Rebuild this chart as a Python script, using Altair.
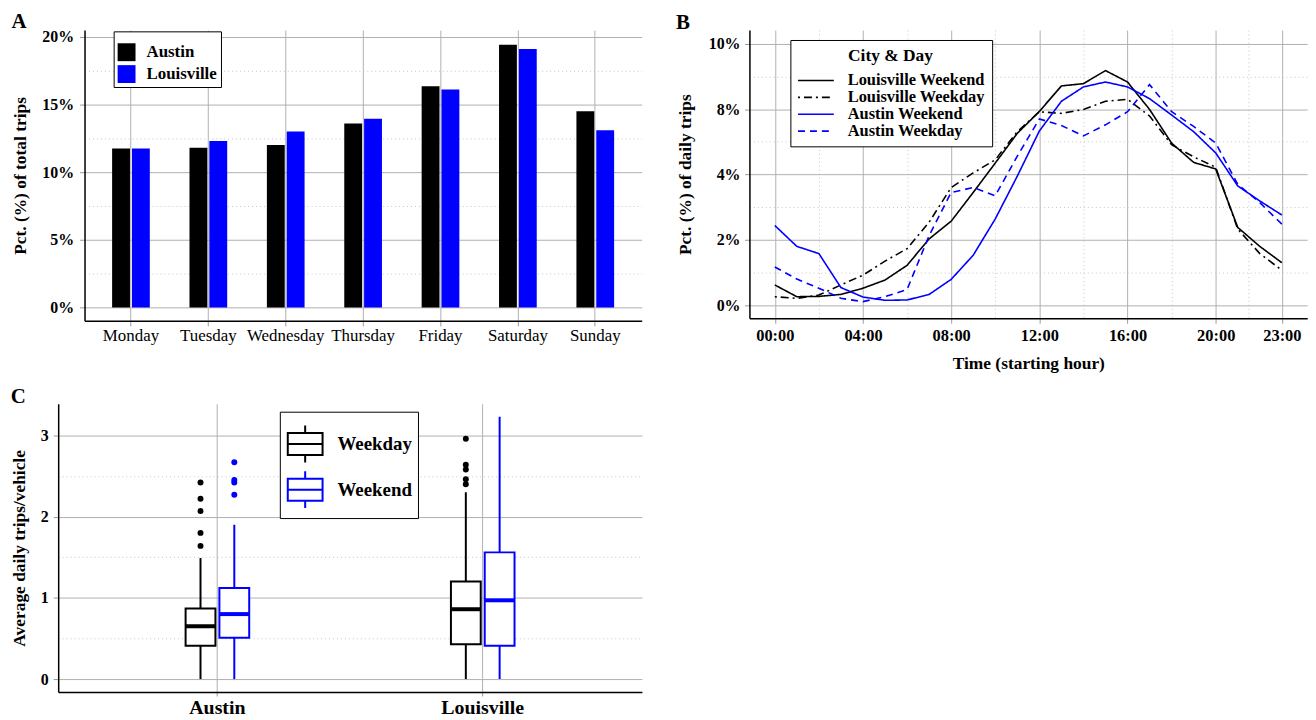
import altair as alt
import pandas as pd

FONT = "Liberation Serif"
BLACK = "#000000"
BLUE = "#0000ff"
GRID_MAJOR = "#b0b0b0"
GRID_MINOR = "#c8c8c8"
TICK_COLOR = "#999999"

# ---------------- Panel A data ----------------
days = ["Monday", "Tuesday", "Wednesday", "Thursday", "Friday", "Saturday", "Sunday"]
cities = ["Austin", "Louisville"]
austin_share = [11.75, 11.8, 12.0, 13.6, 16.35, 19.4, 14.5]
louisville_share = [11.75, 12.3, 13.0, 13.95, 16.1, 19.1, 13.1]
a_major = [0, 5, 10, 15, 20]
a_labels = ["0%", "5%", "10%", "15%", "20%"]
a_minor = [2.5, 7.5, 12.5, 17.5]

# ---------------- Panel B data ----------------
hours = list(range(24))
series_names = ["Louisville Weekend", "Louisville Weekday", "Austin Weekend", "Austin Weekday"]
louisville_weekend = [0.62, 0.26, 0.27, 0.33, 0.52, 0.77, 1.22, 2.03, 2.57, 3.45, 4.35, 5.26,
                      5.93, 6.71, 6.78, 7.18, 6.83, 5.99, 4.96, 4.37, 4.17, 2.38, 1.80, 1.30]
louisville_weekday = [0.26, 0.21, 0.31, 0.62, 0.92, 1.35, 1.73, 2.54, 3.60, 4.05, 4.45, 5.31,
                      5.92, 5.87, 5.99, 6.24, 6.30, 5.79, 4.91, 4.54, 4.22, 2.33, 1.58, 1.07]
austin_weekend = [2.44, 1.80, 1.58, 0.54, 0.25, 0.15, 0.16, 0.33, 0.79, 1.53, 2.64, 3.95,
                  5.33, 6.24, 6.68, 6.83, 6.68, 6.32, 5.82, 5.31, 4.66, 3.65, 3.19, 2.76]
austin_weekday = [1.17, 0.80, 0.52, 0.21, 0.11, 0.26, 0.48, 2.13, 3.45, 3.60, 3.35, 4.56,
                  5.70, 5.50, 5.18, 5.52, 5.92, 6.75, 5.92, 5.47, 4.96, 3.70, 3.14, 2.48]
series_values = [louisville_weekend, louisville_weekday, austin_weekend, austin_weekday]
series_colors = [BLACK, BLACK, BLUE, BLUE]
series_dashes = [[1, 0], [2, 4, 8, 4], [1, 0], [7, 5]]
b_x_major = [0, 4, 8, 12, 16, 20, 23]
b_x_labels = ["00:00", "04:00", "08:00", "12:00", "16:00", "20:00", "23:00"]
b_x_minor = [2, 6, 10, 14, 18, 21.5]
b_y_major = [0, 2, 4, 6, 8]
b_y_labels = ["0%", "2%", "4%", "8%", "10%"]
b_y_minor = [1, 3, 5, 7]

# ---------------- Panel C data ----------------
day_types = ["Weekday", "Weekend"]
box_city = ["Austin", "Austin", "Louisville", "Louisville"]
box_day = ["Weekday", "Weekend", "Weekday", "Weekend"]
box_low = [0.0, 0.0, 0.0, 0.0]
box_q1 = [0.41, 0.51, 0.43, 0.41]
box_median = [0.65, 0.80, 0.86, 0.97]
box_q3 = [0.87, 1.12, 1.20, 1.56]
box_high = [1.49, 1.90, 2.30, 3.23]
out_city = ["Austin"] * 9 + ["Louisville"] * 5
out_day = ["Weekday"] * 5 + ["Weekend"] * 4 + ["Weekday"] * 5
out_value = [1.64, 1.80, 2.07, 2.22, 2.42, 2.67, 2.45, 2.42, 2.27,
             2.96, 2.64, 2.58, 2.46, 2.40]
c_major = [0, 1, 2, 3]
c_labels = ["0", "1", "2", "3"]
c_minor = [0.5, 1.5, 2.5]


def js_list(vals, quote=False):
    if quote:
        return "[" + ",".join("'" + str(v) + "'" for v in vals) + "]"
    return "[" + ",".join(str(v) for v in vals) + "]"


def grid_axis(major, labels, minor, **kw):
    mj = js_list(major)
    is_major = f"indexof({mj}, datum.value) >= 0"
    return alt.Axis(
        values=major + minor,
        labelExpr=f"{is_major} ? {js_list(labels, True)}[indexof({mj}, datum.value)] : ''",
        grid=True,
        gridDash={"condition": {"test": f"!({is_major})", "value": [1, 3]}, "value": []},
        gridColor={"condition": {"test": f"!({is_major})", "value": GRID_MINOR}, "value": GRID_MAJOR},
        tickOpacity={"condition": {"test": f"!({is_major})", "value": 0}, "value": 1},
        **kw,
    )


TITLE_KW = dict(anchor="start", frame="bounds", fontSize=21, fontWeight="bold",
                font=FONT, offset=-3, baseline="top", color="black")

# ---------------- Panel A ----------------
df_a = pd.DataFrame({
    "a_day": days * 2,
    "a_city": ["Austin"] * len(days) + ["Louisville"] * len(days),
    "a_pct": austin_share + louisville_share,
})

chart_a = alt.Chart(df_a).mark_bar().encode(
    x=alt.X("a_day:N", sort=days,
            scale=alt.Scale(domain=days, paddingInner=0, paddingOuter=0.1),
            axis=alt.Axis(title=None, labelAngle=0, bandPosition=0.5, grid=True,
                          gridColor=GRID_MAJOR, labelFontSize=17, labelFontWeight="normal",
                          tickSize=5, labelPadding=2)),
    xOffset=alt.XOffset("a_city:N", sort=cities,
                        scale=alt.Scale(domain=cities, paddingInner=0.1, paddingOuter=1)),
    y=alt.Y("a_pct:Q", scale=alt.Scale(domain=[-0.98, 20.49], nice=False),
            axis=grid_axis(a_major, a_labels, a_minor, title="Pct. (%) of total trips",
                           titleX=-55.4, labelFontSize=16, tickSize=5, labelPadding=6)),
    y2=alt.datum(0),
    color=alt.Color("a_city:N", sort=cities,
                    scale=alt.Scale(domain=cities, range=[BLACK, BLUE]),
                    legend=alt.Legend(title=" ", titleFontSize=6, titlePadding=2,
                                      orient="none", legendX=29.3, legendY=1.3,
                                      direction="vertical", padding=4,
                                      symbolType="square", symbolSize=324,
                                      symbolStrokeWidth=0, labelOffset=11,
                                      labelFontSize=17, labelFontWeight="bold",
                                      rowPadding=4, strokeColor="black",
                                      fillColor="white")),
).properties(width=560.6, height=292.6, title=alt.TitleParams("A", **TITLE_KW))

# ---------------- Panel B ----------------
rows_b = []
for name, vals in zip(series_names, series_values):
    for h, v in zip(hours, vals):
        rows_b.append({"b_hour": h, "b_value": v, "b_series": name})
df_b = pd.DataFrame(rows_b)

legend_b = dict(title="City & Day", orient="none", legendX=41.2, legendY=10,
                direction="vertical", titleAnchor="middle", titleFontSize=17.5,
                titleFontWeight="bold", titlePadding=8, labelFontSize=16.5,
                labelFontWeight="bold", symbolType="M-1,0H3.8", symbolSize=225,
                symbolStrokeWidth=1.6, labelOffset=34, rowPadding=0, padding=6.7,
                strokeColor="black", fillColor="white")

chart_b = alt.Chart(df_b).mark_line(strokeWidth=1.6).encode(
    x=alt.X("b_hour:Q", scale=alt.Scale(domain=[-1.15, 24.15], nice=False, zero=False),
            axis=grid_axis(b_x_major, b_x_labels, b_x_minor, title="Time (starting hour)",
                           titleY=37, titleBaseline="top", labelFontSize=16.5,
                           tickSize=5, labelPadding=4, labelFlush=False)),
    y=alt.Y("b_value:Q", scale=alt.Scale(domain=[-0.4, 8.42], nice=False, zero=False),
            axis=grid_axis(b_y_major, b_y_labels, b_y_minor, title="Pct. (%) of daily trips",
                           titleX=-55.8, labelFontSize=16, tickSize=5, labelPadding=4.5)),
    color=alt.Color("b_series:N", sort=series_names,
                    scale=alt.Scale(domain=series_names, range=series_colors),
                    legend=alt.Legend(**legend_b)),
    strokeDash=alt.StrokeDash("b_series:N", sort=series_names,
                              scale=alt.Scale(domain=series_names, range=series_dashes),
                              legend=alt.Legend(**legend_b)),
    order=alt.Order("b_hour:Q"),
).properties(width=561.2, height=290, title=alt.TitleParams("B", **TITLE_KW))

# ---------------- Panel C ----------------
# Panel C shares its left origin with panel A (same grid column); its plot area is
# widened to the left through the x range and the y axis is offset to match.
C_SHIFT = 26.5
C_WIDTH = 560.8

df_box = pd.DataFrame({"c_city": box_city, "c_day": box_day, "c_group": box_day,
                       "low": box_low, "q1": box_q1, "median": box_median,
                       "q3": box_q3, "high": box_high})
df_out = pd.DataFrame({"c_city": out_city, "c_day": out_day, "value": out_value})

x_c = alt.X("c_city:N", sort=cities,
            scale=alt.Scale(domain=cities, paddingInner=0, paddingOuter=0.1,
                            range=[-C_SHIFT, C_WIDTH]),
            axis=alt.Axis(title=None, labelAngle=0, bandPosition=0.5, grid=True,
                          gridColor=GRID_MAJOR, labelFontSize=20, tickSize=4,
                          labelPadding=2))
xo_c = alt.XOffset("c_day:N", sort=day_types,
                   scale=alt.Scale(domain=day_types, range=[101.5, 165.5],
                                   paddingInner=0.118, paddingOuter=0))
y_scale_c = alt.Scale(domain=[-0.159, 3.39], nice=False, zero=False)
y_axis_c = grid_axis(c_major, c_labels, c_minor, title="Average daily trips/vehicle",
                     titleX=-29.7, labelFontSize=16, tickSize=5, labelPadding=5,
                     offset=C_SHIFT)
col_c = alt.Color("c_day:N", sort=day_types, scale=alt.Scale(domain=day_types, range=[BLACK, BLUE]),
                  legend=None)

whiskers = alt.Chart(df_box).mark_rule(strokeWidth=2).encode(
    x=x_c, xOffset=xo_c,
    y=alt.Y("low:Q", scale=y_scale_c, axis=y_axis_c), y2="high:Q", color=col_c)
boxes = alt.Chart(df_box).mark_bar(fill="white", strokeWidth=2, opacity=1).encode(
    x=x_c, xOffset=xo_c, y=alt.Y("q1:Q", scale=y_scale_c, axis=y_axis_c), y2="q3:Q",
    stroke=alt.Stroke("c_group:N", sort=day_types,
                      scale=alt.Scale(range=[BLACK, BLUE]),
                      legend=alt.Legend(title=" ", titleFontSize=5, titlePadding=2,
                                        orient="none", legendX=196.5, legendY=8,
                                        direction="vertical", padding=6,
                                        symbolType="M-0.946,-0.595H0.946V0.595H-0.946Z M-0.946,0H0.946 M0,-0.595V-1 M0,0.595V1",
                                        symbolSize=1369, symbolStrokeWidth=2,
                                        symbolFillColor="white", labelOffset=13,
                                        labelFontSize=19, labelFontWeight="bold",
                                        rowPadding=1, strokeColor="black",
                                        fillColor="white")))
medians = alt.Chart(df_box).mark_tick(thickness=4, size=30, orient="horizontal", opacity=1).encode(
    x=x_c, xOffset=xo_c, y=alt.Y("median:Q", scale=y_scale_c, axis=y_axis_c), color=col_c)
outliers = alt.Chart(df_out).mark_circle(size=36, opacity=1).encode(
    x=x_c, xOffset=xo_c, y=alt.Y("value:Q", scale=y_scale_c, axis=y_axis_c), color=col_c)

chart_c = alt.layer(whiskers, boxes, medians, outliers).properties(
    width=C_WIDTH, height=290, title=alt.TitleParams("C", **TITLE_KW))

indep = dict(x="independent", y="independent", xOffset="independent",
             color="independent", stroke="independent", strokeDash="independent")
indep_legend = dict(color="independent", stroke="independent", strokeDash="independent")

top_row = alt.hconcat(chart_a, chart_b, spacing=34).resolve_scale(**indep).resolve_legend(**indep_legend)

chart = alt.concat(
    top_row,
    chart_c,
    columns=1,
    spacing=13,
).resolve_scale(**indep).resolve_legend(**indep_legend).properties(
    padding={"left": 2, "top": 0, "right": 0, "bottom": 0}
).configure(
    font=FONT,
).configure_view(
    stroke=None,
).configure_axis(
    domainColor="black", domainWidth=1.5, tickColor=TICK_COLOR, tickWidth=1,
    labelColor="black", labelFont=FONT, labelFontWeight="bold",
    titleFont=FONT, titleFontWeight="bold", titleFontSize=17.5, titleColor="black",
    gridWidth=1,
).configure_legend(
    labelColor="black", titleColor="black", labelFont=FONT, titleFont=FONT,
)

chart.save("out.html", embed_options={"renderer": "svg", "actions": False})
